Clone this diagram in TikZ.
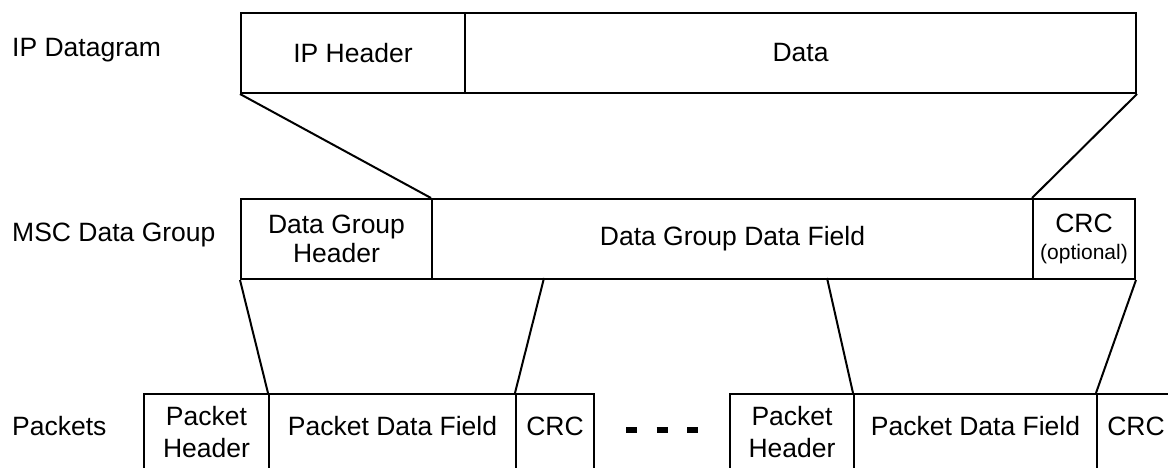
\documentclass[tikz,border=0pt]{standalone}
\usepackage{fontspec}
\setmainfont{Liberation Sans}
\begin{document}
\begin{tikzpicture}[x=1pt,y=-1pt,
  txt/.style={font=\fontsize{26.5}{29}\selectfont, align=center, inner sep=0pt},
  field/.style={txt, draw, line width=2pt, anchor=north west, minimum height=80pt},
  bot/.style={field, minimum height=80pt},
  btext/.style={label={[txt, yshift=8pt]center:#1}},
  btwo/.style={label={[txt, font=\fontsize{26.5}{32}\selectfont, yshift=2pt]center:#1}},
  conn/.style={line width=2pt},
  rowlabel/.style={txt, anchor=base west}]
\useasboundingbox (0,0) rectangle (1168,468);
\clip (0,0) rectangle (1168,468);

% row labels
\node[rowlabel] (l1) at (12,57) {IP Datagram};
\node[rowlabel] (l2) at (12,241) {MSC Data Group};
\node[rowlabel] (l3) at (12,435) {Packets};

% IP datagram
\node[field, minimum width=224pt] (ipH) at (240,12) {IP Header};
\node[field, minimum width=671pt] (ipD) at (464,12) {Data};

% MSC data group
\node[field, minimum width=191pt] (dgH) at (240,198) {Data Group\\Header};
\node[field, minimum width=601pt] (dgD) at (431,198) {Data Group Data Field};
\node[field, minimum width=102pt] (dgC) at (1032,198) {CRC\\[-2pt]{\fontsize{21}{21}\selectfont (optional)}};

% packets
\node[bot, minimum width=125pt, btwo={Packet\\Header}] (p1H) at (143,393) {};
\node[bot, minimum width=247pt, btext={Packet Data Field}] (p1D) at (268,393) {};
\node[bot, minimum width=78pt, btext={CRC}] (p1C) at (515,393) {};
\node[bot, minimum width=124pt, btwo={Packet\\Header}] (p2H) at (729,393) {};
\node[bot, minimum width=243pt, btext={Packet Data Field}] (p2D) at (853,393) {};
\node[bot, minimum width=78pt, btext={CRC}] (p2C) at (1096,393) {};

% connectors
\coordinate (m1) at (544,278);
\coordinate (m2) at (827,278);
\draw[conn] (ipH.south west) -- (dgD.north west);
\draw[conn] (ipD.south east) -- (dgC.north west);
\draw[conn] (dgH.south west) -- (p1D.north west);
\draw[conn] (m1) -- (p1C.north west);
\draw[conn] (m2) -- (p2D.north west);
\draw[conn] (dgC.south east) -- (p2C.north west);

% ellipsis dashes
\coordinate (d0) at (626,430);
\coordinate (d1) at (700,430);
\draw[line width=6pt, dash pattern=on 11pt off 19.5pt] (d0) -- (d1);
\end{tikzpicture}
\end{document}
